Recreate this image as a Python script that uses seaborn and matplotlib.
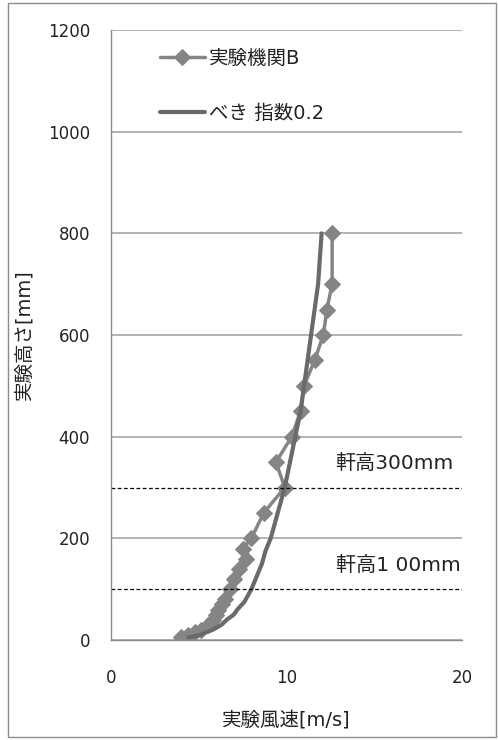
import matplotlib
matplotlib.use('Agg')
import matplotlib.pyplot as plt
import seaborn as sns
from matplotlib.patches import Rectangle

# 実験機関B  (height [mm], speed [m/s])
lab_height = [5, 10, 15, 20, 30, 40, 50, 60, 70, 80, 100, 120, 140, 160, 180,
              200, 250, 300, 350, 400, 450, 500, 550, 600, 650, 700, 800]
lab_speed = [4.0, 4.4, 4.8, 5.1, 5.5, 5.8, 6.0, 6.1, 6.3, 6.5, 6.8, 7.0, 7.3,
             7.7, 7.5, 8.0, 8.7, 9.9, 9.4, 10.3, 10.8, 11.0, 11.6, 12.1, 12.3,
             12.6, 12.6]

# べき指数0.2 curve
pow_height = [5, 7, 10, 15, 20, 30, 40, 50, 60, 75, 100, 125, 150, 175, 200,
              250, 300, 350, 400, 450, 500, 550, 600, 650, 700, 750, 800]
pow_speed = [4.4, 4.7, 5.1, 5.4, 5.8, 6.3, 6.6, 7.0, 7.2, 7.6, 8.0, 8.3, 8.6,
             8.8, 9.1, 9.5, 9.9, 10.2, 10.5, 10.8, 11.0, 11.2, 11.4, 11.6,
             11.8, 11.9, 12.0]

eave_heights = [300, 100]
eave_labels = ['軒高300mm', '軒高1 00mm']

sns.set_style('white')
plt.rcParams['font.family'] = ['DejaVu Sans', 'Noto Sans CJK JP']

W, H = 498, 740
fig = plt.figure(figsize=(W / 100, H / 100), dpi=100)
ax = fig.add_axes([111 / W, 1 - 640 / H, 351 / W, 610 / H])

sns.lineplot(x=lab_speed, y=lab_height, sort=False, estimator=None, ax=ax,
             color='#858585', linewidth=2.5, marker='D', markersize=8,
             markeredgecolor='#858585', label='実験機関B')
sns.lineplot(x=pow_speed, y=pow_height, sort=False, estimator=None, ax=ax,
             color='#6a6a6a', linewidth=3, label='べき 指数0.2')

for h, t in zip(eave_heights, eave_labels):
    ax.axhline(h, color='black', linewidth=0.9, linestyle=(0, (3, 2)))
    ax.text(12.8, h + 47, t, fontsize=14.5, color='#222222', va='center',
            ha='left', family=['DejaVu Sans', 'Noto Sans CJK JP'])

ax.set_xlim(0, 20)
ax.set_ylim(0, 1200)
ax.set_xticks([0, 10, 20])
ax.set_yticks(range(0, 1201, 200))
ax.yaxis.grid(True, color='#a6a6a6', linewidth=1.2)
ax.set_axisbelow(True)
for s in ['top', 'right']:
    ax.spines[s].set_visible(False)
for s in ['left', 'bottom']:
    ax.spines[s].set_color('#8c8c8c')
    ax.spines[s].set_linewidth(1)
ax.tick_params(axis='both', length=0, labelsize=12, colors='#222222')
ax.tick_params(axis='x', pad=21)
ax.tick_params(axis='y', pad=15)

ax.set_xlabel('実験風速[m/s]', fontsize=14, color='#222222')
ax.set_ylabel('実験高さ[mm]', fontsize=14, color='#222222')
ax.xaxis.set_label_coords(0.5, -0.1165)
ax.yaxis.set_label_coords(-0.22, 0.50)

leg = ax.legend(loc='upper left', bbox_to_anchor=(0.117, 0.982), frameon=False,
                fontsize=14, handlelength=2.3, handletextpad=0.25,
                labelspacing=1.86, numpoints=1, borderaxespad=0)
for t in leg.get_texts():
    t.set_color('#222222')

fig.patches.append(Rectangle((8 / W, 3 / H), 488 / W, 734 / H,
                             transform=fig.transFigure, fill=False,
                             edgecolor='#8c8c8c', linewidth=1))

fig.savefig('out.png', dpi=100)
